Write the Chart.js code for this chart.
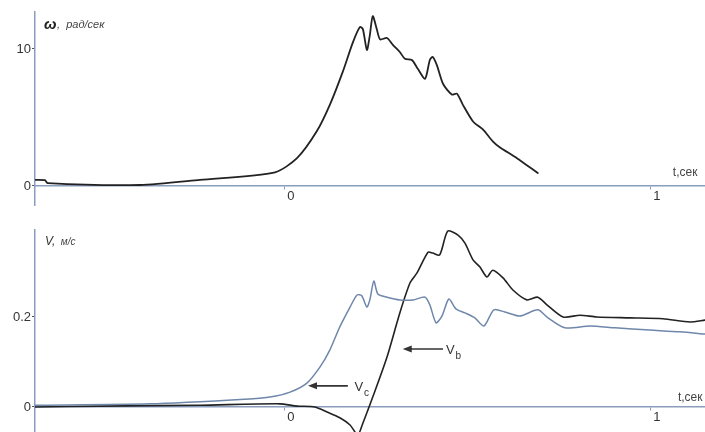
<!DOCTYPE html>
<html><head><meta charset="utf-8">
<script src="https://cdn.jsdelivr.net/npm/chart.js@4"></script>
<style>
html,body{margin:0;padding:0;background:#fff;width:705px;height:432px;overflow:hidden}
#c1{position:absolute;left:0;top:0}
#c2{position:absolute;left:0;top:215px}
</style></head><body>
<canvas id="c1" width="705" height="215"></canvas>
<canvas id="c2" width="705" height="217"></canvas>
<script>
// ---- data (time in seconds) ----
const omegaT   = [-0.683,-0.656,-0.648,-0.396,-0.232,-0.027,0.033,0.087,0.123,0.158,0.186,0.205,0.213,0.224,0.232,0.240,0.251,0.260,0.279,0.295,0.314,0.328,0.347,0.363,0.383,0.396,0.404,0.415,0.432,0.456,0.470,0.486,0.514,0.541,0.568,0.587,0.634,0.691];
const omegaVal = [0.45,0.42,0.2,0.07,0.45,1.0,2.03,3.99,5.94,8.33,10.5,11.6,11.45,9.93,11.0,12.4,11.45,10.7,10.8,10.3,9.78,9.28,9.2,8.55,7.83,9.2,9.42,8.84,7.46,6.67,6.74,5.94,4.71,4.13,3.26,2.83,2.03,0.94];

const vcT   = [-0.683,-0.369,-0.096,-0.041,0.014,0.060,0.096,0.123,0.150,0.178,0.197,0.210,0.224,0.232,0.243,0.254,0.279,0.314,0.350,0.383,0.396,0.413,0.429,0.448,0.467,0.492,0.519,0.544,0.571,0.601,0.642,0.691,0.719,0.765,0.833,0.902,0.997,1.079,1.148];
const vcVal = [0.004,0.007,0.018,0.022,0.033,0.053,0.089,0.127,0.178,0.222,0.249,0.247,0.222,0.238,0.280,0.251,0.244,0.238,0.238,0.244,0.227,0.187,0.202,0.240,0.218,0.209,0.198,0.180,0.216,0.211,0.202,0.216,0.198,0.176,0.180,0.176,0.171,0.167,0.162];

const vbT   = [-0.683,-0.505,-0.232,-0.014,0.033,0.082,0.115,0.150,0.178,0.199,0.213,0.240,0.279,0.314,0.342,0.361,0.391,0.404,0.423,0.445,0.473,0.492,0.514,0.533,0.552,0.568,0.596,0.623,0.661,0.691,0.716,0.760,0.806,0.852,0.943,1.033,1.107,1.148];
const vbVal = [0,0.002,0.004,0.007,0.002,0,-0.011,-0.024,-0.040,-0.062,-0.036,0.022,0.111,0.209,0.276,0.298,0.344,0.342,0.338,0.391,0.382,0.364,0.327,0.311,0.289,0.304,0.287,0.260,0.238,0.244,0.227,0.200,0.204,0.200,0.198,0.196,0.189,0.193];

const xTickValues = [0, 1];
const xTickLabels = ['0', '1'];
const omegaTickValues = [0, 10];
const omegaTickLabels = ['0', '10'];
const vTickValues = [0, 0.2];
const vTickLabels = ['0', '0.2'];

// ---- styling ----
const AXIS = '#8b9dbf';
const FONT = 'Liberation Sans, Arial, sans-serif';
const pts = (ts, vs) => ts.map((t, i) => ({x: t, y: vs[i]}));

const annot = {
  id: 'annot',
  afterDraw(chart, args, opts) {
    const ctx = chart.ctx, xs = chart.scales.x, ys = chart.scales.y, ca = chart.chartArea;
    ctx.save();
    ctx.textBaseline = 'alphabetic';
    ctx.textAlign = 'left';
    (opts.texts || []).forEach(t => {
      const px = t.area ? ca.left + t.dx : xs.getPixelForValue(t.t);
      const py = t.area ? ca.top + t.dy : ys.getPixelForValue(t.v);
      ctx.font = t.font; ctx.fillStyle = t.color;
      ctx.fillText(t.text, px, py);
    });
    (opts.arrows || []).forEach(a => {
      const x1 = xs.getPixelForValue(a.t1), x2 = xs.getPixelForValue(a.t2), y = ys.getPixelForValue(a.v);
      ctx.strokeStyle = '#333'; ctx.fillStyle = '#333'; ctx.lineWidth = 1.6;
      ctx.beginPath(); ctx.moveTo(x2, y); ctx.lineTo(x1 + 7, y); ctx.stroke();
      ctx.beginPath(); ctx.moveTo(x1, y); ctx.lineTo(x1 + 9, y - 3.5); ctx.lineTo(x1 + 9, y + 3.5); ctx.closePath(); ctx.fill();
      const lx = xs.getPixelForValue(a.lt), ly = ys.getPixelForValue(a.lv);
      ctx.font = '13px ' + FONT; ctx.fillStyle = '#333';
      ctx.fillText('V', lx, ly);
      const w = ctx.measureText('V').width;
      ctx.font = '10px ' + FONT;
      ctx.fillText(a.sub, lx + w + 1, ly + 5);
    });
    ctx.restore();
  }
};

function makeScales(yMin, yMax, yTicks, yLabels) {
  return {
    x: {
      type: 'linear', min: -0.683, max: 1.148, position: {y: 0},
      afterBuildTicks(s) { s.ticks = xTickValues.map(v => ({value: v})); },
      afterFit(s) { s.paddingLeft = 0; s.paddingRight = 0; s.paddingTop = 0; s.paddingBottom = 0; },
      ticks: { callback: (v, i) => xTickLabels[i], font: {family: FONT, size: 13}, color: '#333', padding: 0, labelOffset: 6, maxRotation: 0, autoSkip: false },
      grid: { drawOnChartArea: false, tickLength: 3, color: AXIS, lineWidth: 1 },
      border: { color: AXIS, width: 1.5 }
    },
    y: {
      type: 'linear', min: yMin, max: yMax, position: 'left',
      afterFit(s) { s.width = 35; s.paddingTop = 0; s.paddingBottom = 0; },
      afterBuildTicks(s) { s.ticks = yTicks.map(v => ({value: v})); },
      ticks: { callback: (v, i) => yLabels[i], font: {family: FONT, size: 13}, color: '#333', padding: 1 },
      grid: { drawOnChartArea: false, tickLength: 3, color: '#555', lineWidth: 1 },
      border: { color: AXIS, width: 1.5 }
    }
  };
}

const common = {
  responsive: false, animation: false,
  plugins: { legend: {display: false}, tooltip: {enabled: false} },
  elements: { point: {radius: 0}, line: {tension: 0.25, borderCapStyle: 'round', borderJoinStyle: 'round'} }
};

new Chart(document.getElementById('c1'), {
  type: 'line',
  data: { datasets: [{ data: pts(omegaT, omegaVal), borderColor: '#222', borderWidth: 1.8, fill: false }] },
  options: Object.assign({}, common, {
    layout: { padding: {top: 12, bottom: 10, left: 0, right: 0} },
    scales: makeScales(-1.39, 12.7, omegaTickValues, omegaTickLabels),
    plugins: Object.assign({}, common.plugins, {
      annot: { texts: [
        {area: true, dx: 9, dy: 17, text: 'ω', font: 'italic bold 15px ' + FONT, color: '#222'},
        {area: true, dx: 22, dy: 16, text: ',  рад/сек', font: 'italic 11px ' + FONT, color: '#444'},
        {t: 1.06, v: 0.7, text: 't,сек', font: '12px ' + FONT, color: '#444'}
      ] }
    })
  }),
  plugins: [annot]
});

new Chart(document.getElementById('c2'), {
  type: 'line',
  data: { datasets: [
    { data: pts(vcT, vcVal), borderColor: '#6f87aa', borderWidth: 1.5, fill: false },
    { data: pts(vbT, vbVal), borderColor: '#222', borderWidth: 1.6, fill: false }
  ] },
  options: Object.assign({}, common, {
    layout: { padding: {top: 15, bottom: 0, left: 0, right: 0} },
    scales: makeScales(-0.0556, 0.3933, vTickValues, vTickLabels),
    plugins: Object.assign({}, common.plugins, {
      annot: {
        texts: [
          {area: true, dx: 10, dy: 15, text: 'V,', font: 'italic 12px ' + FONT, color: '#333'},
          {area: true, dx: 23, dy: 15, text: ' м/с', font: 'italic 10px ' + FONT, color: '#444'},
          {t: 1.074, v: 0.013, text: 't,сек', font: '12px ' + FONT, color: '#444'}
        ],
        arrows: [
          {t1: 0.063, t2: 0.172, v: 0.047, lt: 0.19, lv: 0.035, sub: 'c'},
          {t1: 0.322, t2: 0.432, v: 0.129, lt: 0.44, lv: 0.118, sub: 'b'}
        ]
      }
    })
  }),
  plugins: [annot]
});
</script>
</body></html>
